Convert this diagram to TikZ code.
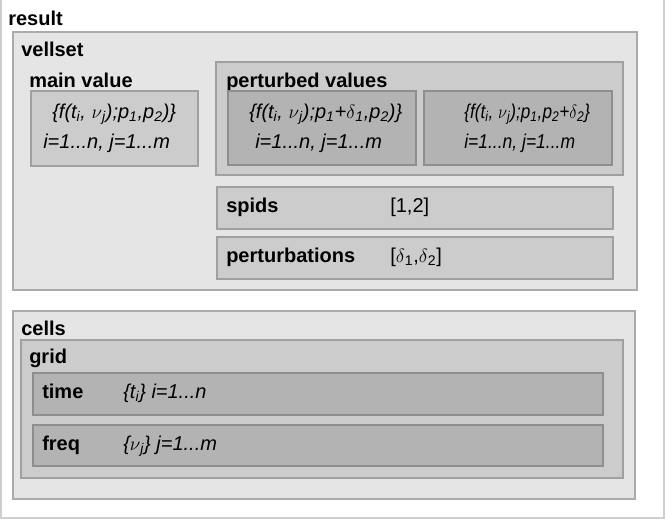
\documentclass[tikz,border=0pt]{standalone}
\usepackage{fontspec}
\setmainfont{Liberation Sans}
\usetikzlibrary{fit}
\definecolor{outerdraw}{HTML}{CFCFCF}
\definecolor{lAfill}{HTML}{E5E5E5}
\definecolor{lAdraw}{HTML}{ABABAB}
\definecolor{lBfill}{HTML}{CCCCCC}
\definecolor{lBdraw}{HTML}{A0A0A0}
\definecolor{lCfill}{HTML}{B3B3B3}
\definecolor{lCdraw}{HTML}{8E8E8E}
\newcommand{\sbs}[1]{\textsubscript{#1}}
\begin{document}
\begin{tikzpicture}[x=0.75pt,y=-0.75pt,
  boxbase/.style={inner sep=0pt,line width=0.9pt},
  outerbox/.style={boxbase,draw=outerdraw,fill=white},
  lvlA/.style={boxbase,draw=lAdraw,fill=lAfill},
  lvlB/.style={boxbase,draw=lBdraw,fill=lBfill},
  lvlC/.style={boxbase,draw=lCdraw,fill=lCfill},
  title/.style={anchor=base west,inner sep=0pt,font=\fontsize{15}{18}\selectfont\bfseries},
  formula/.style={anchor=base west,inner sep=0pt,font=\fontsize{15}{18}\selectfont\itshape},
  plain/.style={anchor=base west,inner sep=0pt,font=\fontsize{15}{18}\selectfont}]
\useasboundingbox (0,0) rectangle (665,519);
% outer result box
\node[outerbox,fit={(1,-2)(664,518)}] (result) {};
\node[title] (resultlbl) at (8,25) {result};
% vellset
\node[lvlA,fit={(13,32)(637,290)}] (vellset) {};
\node[title] (vellsetlbl) at (21,56) {vellset};
% main value
\node[title] (mainlbl) at (29,87) {main value};
\node[lvlB,fit={(31,91)(198,166)}] (mainbox) {};
\node[formula] (mainf1) at (52,118) {\{f(t\sbs{i}, $\nu$\sbs{j});p\sbs{1},p\sbs{2})\}};
\node[formula] (mainf2) at (43,148) {i=1...n, j=1...m};
% perturbed values
\node[lvlB,fit={(216,62)(623,175)}] (pertbox) {};
\node[title] (pertlbl) at (226,87) {perturbed values};
\node[lvlC,fit={(228,91)(416,165)}] (pertA) {};
\node[formula] (pertAf1) at (249,118) {\{f(t\sbs{i}, $\nu$\sbs{j});p\sbs{1}+$\delta$\sbs{1},p\sbs{2})\}};
\node[formula] (pertAf2) at (255,148) {i=1...n, j=1...m};
\node[lvlC,fit={(424,91)(612,165)}] (pertB) {};
\node[formula] (pertBf1) at (464,118) {\scalebox{0.86}[1]{\{f(t\sbs{i}, $\nu$\sbs{j});p\sbs{1},p\sbs{2}+$\delta$\sbs{2}\}}};
\node[formula] (pertBf2) at (464,148) {\scalebox{0.875}[1]{i=1...n, j=1...m}};
% spids
\node[lvlB,fit={(217,187)(613,229)}] (spids) {};
\node[title] (spidslbl) at (226,212) {spids};
\node[plain] (spidsval) at (390,212) {[1,2]};
% perturbations
\node[lvlB,fit={(217,237)(613,279)}] (perturb) {};
\node[title] (perturblbl) at (226,262) {perturbations};
\node[plain] (perturbval) at (390,262) {[$\delta$\sbs{1},$\delta$\sbs{2}]};
% cells
\node[lvlA,fit={(13,311)(635,499)}] (cells) {};
\node[title] (cellslbl) at (21,335) {cells};
\node[lvlB,fit={(21,340)(623,478)}] (grid) {};
\node[title] (gridlbl) at (29,363) {grid};
\node[lvlC,fit={(33,373)(603,415)}] (time) {};
\node[title] (timelbl) at (42,398) {time};
\node[formula] (timeval) at (123,398) {\{t\sbs{i}\} i=1...n};
\node[lvlC,fit={(33,425)(603,466)}] (freq) {};
\node[title] (freqlbl) at (42,450) {freq};
\node[formula] (freqval) at (123,450) {\{$\nu$\sbs{j}\} j=1...m};
\end{tikzpicture}
\end{document}
